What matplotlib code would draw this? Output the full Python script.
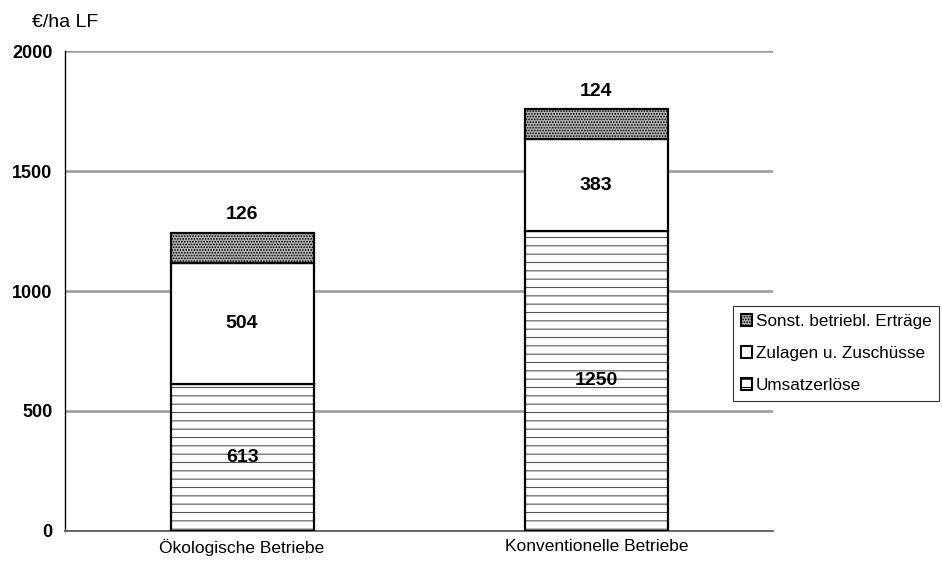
import matplotlib.pyplot as plt
from matplotlib.patches import Patch
import numpy as np

plt.rcParams['font.family'] = ['Liberation Sans', 'DejaVu Sans']
plt.rcParams['hatch.linewidth'] = 0.8

categories = ["Ökologische Betriebe", "Konventionelle Betriebe"]
umsatz = np.array([613, 1250])
zulagen = np.array([504, 383])
sonst = np.array([126, 124])

fig = plt.figure(figsize=(9.42, 5.65), dpi=100)
ax = fig.add_axes([0.069, 0.0602, 0.752, 0.8495])

x = np.arange(len(categories))
w = 0.404
edge_lw = 1.6

# hatch fills (grey lines), then black outlines on top
ax.bar(x, umsatz, w, color='white', edgecolor='#555555', linewidth=0,
       hatch='--', zorder=3)
ax.bar(x, umsatz, w, fill=False, edgecolor='black', linewidth=edge_lw, zorder=4)
ax.bar(x, zulagen, w, bottom=umsatz, color='white', edgecolor='black',
       linewidth=edge_lw, zorder=4)
bottom3 = umsatz + zulagen
ax.bar(x, sonst, w, bottom=bottom3, color='#b0b0b0', edgecolor='black',
       linewidth=edge_lw, hatch='......', zorder=4)

for i in range(len(categories)):
    ax.text(x[i], umsatz[i] / 2, str(umsatz[i]), ha='center', va='center',
            fontsize=14, fontweight='bold', zorder=5)
    ax.text(x[i], umsatz[i] + zulagen[i] / 2, str(zulagen[i]), ha='center',
            va='center', fontsize=14, fontweight='bold', zorder=5)
    ax.text(x[i], bottom3[i] + sonst[i] + 74, str(sonst[i]), ha='center',
            va='center', fontsize=14, fontweight='bold', zorder=5)

ax.set_xlim(-0.5, 1.5)
ax.set_ylim(0, 2000)
ax.set_yticks([0, 500, 1000, 1500, 2000])
ax.set_xticks(x)
ax.set_xticklabels(categories, fontsize=12.5)
for lbl in ax.get_yticklabels():
    lbl.set_fontweight('bold')
    lbl.set_fontsize(13)
ax.yaxis.grid(True, color='#999999', linewidth=1.8, zorder=0)
ax.set_axisbelow(True)
ax.tick_params(axis='x', length=0, pad=6)
ax.tick_params(axis='y', length=0, pad=9)
for s in ['top', 'right']:
    ax.spines[s].set_visible(False)
ax.spines['bottom'].set_color('#555555')
ax.spines['bottom'].set_linewidth(1.2)
ax.spines['left'].set_linewidth(1.0)

fig.text(0.034, 0.961, "€/ha LF", fontsize=14, ha='left', va='center')

handles = [
    Patch(facecolor='#b0b0b0', edgecolor='black', hatch='......', linewidth=1.5,
          label='Sonst. betriebl. Erträge'),
    Patch(facecolor='white', edgecolor='black', linewidth=1.5,
          label='Zulagen u. Zuschüsse'),
    Patch(facecolor='white', edgecolor='black', hatch='--', linewidth=1.5,
          label='Umsatzerlöse'),
]
leg = ax.legend(handles=handles, loc='center left', bbox_to_anchor=(0.9435, 0.37),
                fontsize=12.3, frameon=True, fancybox=False, edgecolor='black',
                handlelength=0.65, handleheight=0.65, handletextpad=0.2,
                borderpad=0.45, labelspacing=1.0, borderaxespad=0)
leg.get_frame().set_linewidth(0.8)

fig.savefig('out.png', dpi=100)
